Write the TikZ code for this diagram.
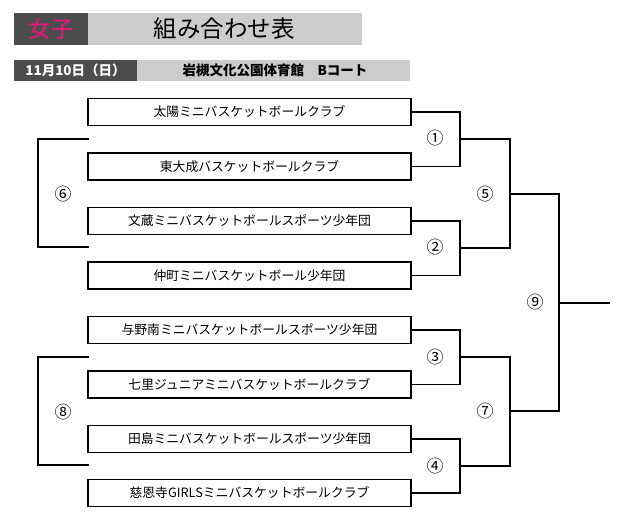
\documentclass[tikz,border=0pt]{standalone}
\usepackage{fontspec}
\newfontfamily\jpfont{Noto Sans CJK JP}
\definecolor{bardark}{HTML}{4D4D4D}
\definecolor{barlight}{HTML}{CCCCCC}
\definecolor{girlpink}{HTML}{F0147A}

\begin{document}
\begin{tikzpicture}[
    x=1pt, y=-1pt,
    darkbar/.style={
        rectangle, fill=bardark, inner sep=0pt, anchor=north west
    },
    lightbar/.style={
        rectangle, fill=barlight, inner sep=0pt, anchor=north west
    },
    team/.style={
        rectangle, draw=black, line width=1.6pt, fill=white,
        minimum width=323pt, minimum height=27pt, inner sep=0pt,
        font=\jpfont\fontsize{12.8}{12.8}\selectfont
    },
    match/.style={font=\jpfont\fontsize{17}{17}\selectfont, inner sep=0pt},
    bracket/.style={line width=1.6pt, draw=black},
]
\useasboundingbox (0,0) rectangle (632,519);

% ── Title bars ───────────────────────────────────────────────
\node[darkbar, minimum width=74pt, minimum height=32pt] (girls) at (14,13) {};
\node[lightbar, minimum width=274pt, minimum height=32pt] (title) at (88,13) {};
\node[font=\jpfont\fontsize{22.5}{22.5}\selectfont, text=girlpink] (girlstext) at (51,29) {女子};
\node[font=\jpfont\fontsize{23.5}{23.5}\selectfont] (titletext) at (224,29) {組み合わせ表};

\node[darkbar, minimum width=123pt, minimum height=21pt] (date) at (14,60) {};
\node[lightbar, minimum width=273pt, minimum height=21pt] (venue) at (137,60) {};
\node[font=\jpfont\bfseries\fontsize{13.5}{13.5}\selectfont, text=white] (datetext) at (75.5,70.5) {11月10日（日）};
\node[font=\jpfont\bfseries\fontsize{13.5}{13.5}\selectfont] (venuetext) at (275,70.5) {岩槻文化公園体育館　Bコート};

% ── Teams ────────────────────────────────────────────────────
\node[team] (t1) at (249.5,112)   {太陽ミニバスケットボールクラブ};
\node[team] (t2) at (249.5,166.5) {東大成バスケットボールクラブ};
\node[team] (t3) at (249.5,221)   {文蔵ミニバスケットボールスポーツ少年団};
\node[team] (t4) at (249.5,275.5) {仲町ミニバスケットボール少年団};
\node[team] (t5) at (249.5,330)   {与野南ミニバスケットボールスポーツ少年団};
\node[team] (t6) at (249.5,384.5) {七里ジュニアミニバスケットボールクラブ};
\node[team] (t7) at (249.5,439)   {田島ミニバスケットボールスポーツ少年団};
\node[team] (t8) at (249.5,493)   {慈恩寺GIRLSミニバスケットボールクラブ};

% ── Bracket joints ───────────────────────────────────────────
\coordinate (m1) at (460,139);
\coordinate (m2) at (460,248);
\coordinate (m3) at (460,357);
\coordinate (m4) at (460,466);
\coordinate (m5) at (510,194);
\coordinate (m7) at (510,411);
\coordinate (m9) at (559,303);
\coordinate (win) at (610,303);

% ── Bracket lines ────────────────────────────────────────────
\draw[bracket] (t1.east) -| (m1) |- (t2.east);
\draw[bracket] (t3.east) -| (m2) |- (t4.east);
\draw[bracket] (t5.east) -| (m3) |- (t6.east);
\draw[bracket] (t7.east) -| (m4) |- (t8.east);
\draw[bracket] (m1) -| (m5) |- (m2);
\draw[bracket] (m3) -| (m7) |- (m4);
\draw[bracket] (m5) -| (m9) |- (m7);
\draw[bracket] (m9) -- (win);

% ── Side brackets ────────────────────────────────────────────
\coordinate (s6a) at (89,139);
\coordinate (s6b) at (89,247);
\coordinate (s6c) at (38,139);
\coordinate (s8a) at (89,357);
\coordinate (s8b) at (89,465);
\coordinate (s8c) at (38,357);
\draw[bracket] (s6a) -- (s6c) |- (s6b);
\draw[bracket] (s8a) -- (s8c) |- (s8b);

% ── Match numbers ────────────────────────────────────────────
\node[match] (n1) at (435,138) {①};
\node[match] (n2) at (435,247) {②};
\node[match] (n3) at (435,357) {③};
\node[match] (n4) at (435,466) {④};
\node[match] (n5) at (485,194) {⑤};
\node[match] (n7) at (485,411) {⑦};
\node[match] (n9) at (535,302) {⑨};
\node[match] (n6) at (63,194)  {⑥};
\node[match] (n8) at (63,412)  {⑧};

\end{tikzpicture}
\end{document}
